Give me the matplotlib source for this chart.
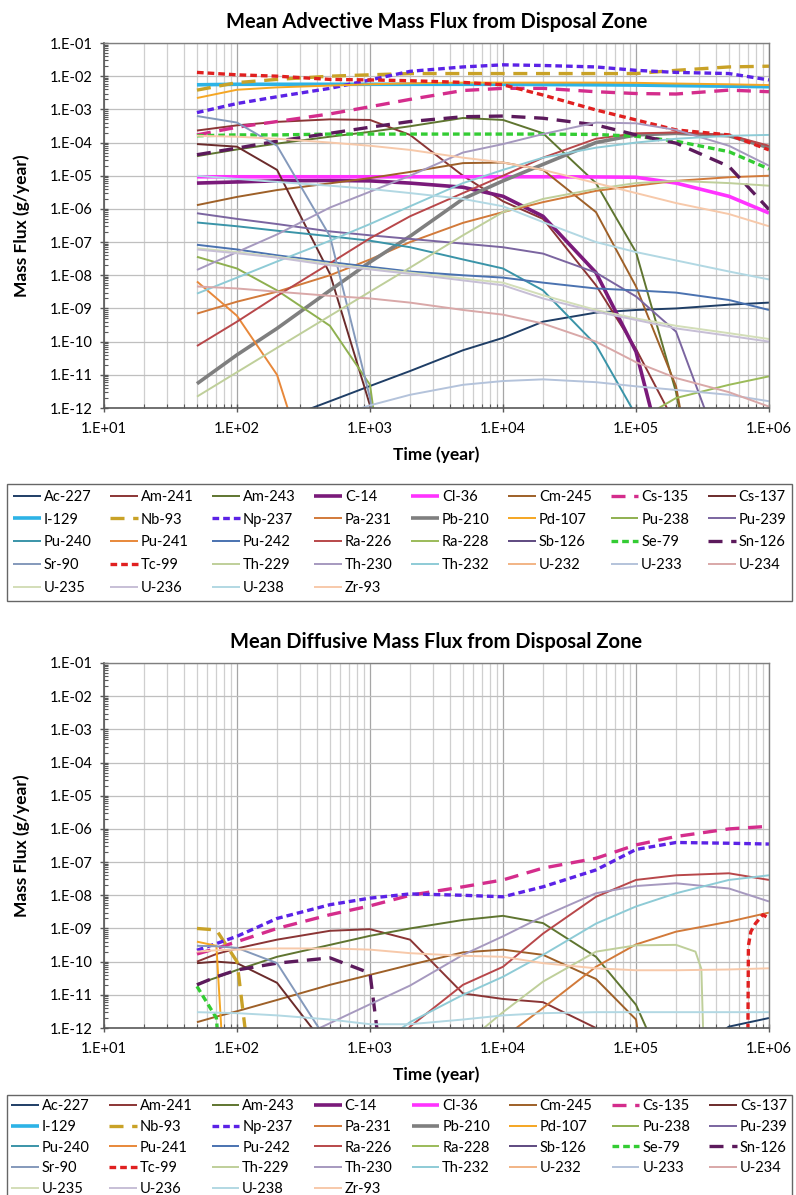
import numpy as np
import matplotlib
matplotlib.use('Agg')
import matplotlib.pyplot as plt
from matplotlib.ticker import FuncFormatter, LogLocator, NullFormatter
from matplotlib.lines import Line2D

plt.rcParams['font.family'] = ['Lato', 'DejaVu Sans']

n = np.nan

NUCLIDES = ['Ac-227', 'Am-241', 'Am-243', 'C-14', 'Cl-36', 'Cm-245', 'Cs-135', 'Cs-137',
            'I-129', 'Nb-93', 'Np-237', 'Pa-231', 'Pb-210', 'Pd-107', 'Pu-238', 'Pu-239',
            'Pu-240', 'Pu-241', 'Pu-242', 'Ra-226', 'Ra-228', 'Sb-126', 'Se-79', 'Sn-126',
            'Sr-90', 'Tc-99', 'Th-229', 'Th-230', 'Th-232', 'U-232', 'U-233', 'U-234',
            'U-235', 'U-236', 'U-238', 'Zr-93']

# ---- advective mass flux (g/year) ----
ADV_T = [50, 100, 200, 500, 1e3, 2e3, 5e3, 1e4, 2e4, 5e4, 1e5, 2e5, 5e5, 1e6]

ADV_AC227 = [n, n, 4e-13, 1.6e-12, 4.6e-12, 1.3e-11, 5.5e-11, 1.3e-10, 4e-10, 7.5e-10, 9e-10, 1e-9, 1.3e-9, 1.5e-9]
ADV_AM241 = [2.3e-4, 3.3e-4, 4.2e-4, 5e-4, 4.8e-4, 1.7e-4, 1e-5, 1.7e-6, 5e-7, 5e-9, 6e-11, 3e-13, n, n]
ADV_AM243 = [3.9e-5, 6.2e-5, 9.3e-5, 1.5e-4, 2.1e-4, 3.1e-4, 5.5e-4, 4.8e-4, 1.9e-4, 6e-6, 5e-8, 3e-12, 1e-20, n]
ADV_C14 = [6e-6, 6.5e-6, 7e-6, 7.2e-6, 7e-6, 6e-6, 4.5e-6, 2.4e-6, 6e-7, 1.2e-8, 5e-11, 1e-15, n, n]
ADV_CL36 = [9.3e-6, 9.3e-6, 9.3e-6, 9.3e-6, 9.3e-6, 9.3e-6, 9.3e-6, 9.3e-6, 9.3e-6, 9.2e-6, 9e-6, 6e-6, 2.4e-6, 7.5e-7]
ADV_CM245 = [1.3e-6, 2.3e-6, 3.7e-6, 5.9e-6, 8.5e-6, 1.3e-5, 2.4e-5, 2.5e-5, 1.5e-5, 8e-7, 4.6e-9, 4.5e-12, 1e-20, n]
ADV_CS135 = [1.7e-4, 2.9e-4, 4.3e-4, 7.3e-4, 1.2e-3, 2e-3, 3.7e-3, 4.3e-3, 4.3e-3, 3.4e-3, 3e-3, 2.9e-3, 3.8e-3, 3.4e-3]
ADV_CS137 = [9e-5, 7.5e-5, 1.5e-5, 1.1e-8, 1.2e-12, 1e-20, n, n, n, n, n, n, n, n]
ADV_I129 = [5.5e-3, 5.7e-3, 5.7e-3, 5.7e-3, 5.7e-3, 5.7e-3, 5.7e-3, 5.7e-3, 5.6e-3, 5.5e-3, 5.4e-3, 5.2e-3, 5e-3, 4.8e-3]
ADV_NB93 = [3.8e-3, 6.4e-3, 8e-3, 1e-2, 1.1e-2, 1.2e-2, 1.2e-2, 1.2e-2, 1.2e-2, 1.2e-2, 1.2e-2, 1.5e-2, 1.9e-2, 2e-2]
ADV_NP237 = [8e-4, 1.5e-3, 2.4e-3, 4.3e-3, 7.7e-3, 1.4e-2, 1.9e-2, 2.2e-2, 2.1e-2, 1.9e-2, 1.5e-2, 1.3e-2, 1.2e-2, 7.7e-3]
ADV_PA231 = [7e-10, 1.6e-9, 3.2e-9, 1e-8, 3e-8, 1e-7, 3.8e-7, 8e-7, 1.6e-6, 3.5e-6, 5e-6, 7e-6, 9e-6, 1e-5]
ADV_PB210 = [5.4e-12, 4e-11, 2.5e-10, 3.5e-9, 2.5e-8, 1.5e-7, 2e-6, 7e-6, 2.2e-5, 1e-4, 1.7e-4, 1.9e-4, 1.6e-4, 7e-5]
ADV_PD107 = [2.2e-3, 3.9e-3, 4.6e-3, 5.2e-3, 5.7e-3, 6.1e-3, 6.4e-3, 6.4e-3, 6.4e-3, 6.4e-3, 6.3e-3, 6e-3, 5.7e-3, 5.4e-3]
ADV_PU238 = [3.6e-8, 1.6e-8, 3.5e-9, 3e-10, 5e-12, 1e-20, n, n, n, n, n, n, n, n]
ADV_PU239 = [7.4e-7, 5e-7, 3.5e-7, 2.1e-7, 1.6e-7, 1.25e-7, 9e-8, 7e-8, 4.5e-8, 1.2e-8, 2.3e-9, 2e-10, 1e-14, n]
ADV_PU240 = [3.9e-7, 3e-7, 2.2e-7, 1.5e-7, 1.1e-7, 7e-8, 3e-8, 1.6e-8, 3.5e-9, 8e-11, 6e-13, 1e-20, n, n]
ADV_PU241 = [6.5e-9, 6e-10, 1e-11, 1e-16, n, n, n, n, n, n, n, n, n, n]
ADV_PU242 = [8.3e-8, 6e-8, 4e-8, 2.5e-8, 1.8e-8, 1.3e-8, 1e-8, 8.5e-9, 6e-9, 4e-9, 3.5e-9, 3e-9, 1.8e-9, 9e-10]
ADV_RA226 = [7.4e-11, 4e-10, 2.4e-9, 2.3e-8, 1.3e-7, 6e-7, 3e-6, 1e-5, 3.5e-5, 1.3e-4, 1.9e-4, 2e-4, 1.7e-4, 8e-5]
ADV_RA228 = [n, n, n, n, n, n, n, n, n, n, 4e-13, 2e-12, 5e-12, 9e-12]
ADV_SB126 = [n] * 14
ADV_SE79 = [1.6e-4, 1.7e-4, 1.7e-4, 1.8e-4, 1.8e-4, 1.8e-4, 1.8e-4, 1.8e-4, 1.8e-4, 1.75e-4, 1.55e-4, 1.1e-4, 5.3e-5, 1.6e-5]
ADV_SN126 = [4.3e-5, 6.8e-5, 1.1e-4, 1.9e-4, 2.9e-4, 4.3e-4, 6e-4, 6.3e-4, 5.4e-4, 3.4e-4, 1.7e-4, 9.6e-5, 1.9e-5, 9.6e-7]
ADV_SR90 = [6.3e-4, 4e-4, 8e-5, 1.5e-7, 2e-12, 1e-20, n, n, n, n, n, n, n, n]
ADV_TC99 = [1.3e-2, 1.1e-2, 1e-2, 8e-3, 7.7e-3, 7.3e-3, 6.5e-3, 5.5e-3, 2.7e-3, 9.6e-4, 4.8e-4, 2.4e-4, 1.7e-4, 6e-5]
ADV_TH229 = [2.2e-12, 1.2e-11, 6.5e-11, 6e-10, 3.2e-9, 1.7e-8, 1.6e-7, 8e-7, 2e-6, 4e-6, 6e-6, 7e-6, 6e-6, 5e-6]
ADV_TH230 = [1.45e-8, 5e-8, 1.7e-7, 1.1e-6, 3.3e-6, 1e-5, 5e-5, 9e-5, 1.8e-4, 4e-4, 3.8e-4, 2.4e-4, 8e-5, 2e-5]
ADV_TH232 = [2.8e-9, 8.5e-9, 2.6e-8, 1.1e-7, 3.5e-7, 1.2e-6, 6e-6, 1.5e-5, 3.5e-5, 7e-5, 1e-4, 1.3e-4, 1.6e-4, 1.7e-4]
ADV_U232 = [n] * 14
ADV_U233 = [n, n, n, 5e-13, 1.2e-12, 2.5e-12, 5e-12, 6.5e-12, 7.3e-12, 6e-12, 4.5e-12, 3.5e-12, 2.5e-12, 1.6e-12]
ADV_U234 = [4.6e-9, 4e-9, 3.2e-9, 2.4e-9, 2e-9, 1.5e-9, 9e-10, 6.5e-10, 3.5e-10, 1e-10, 2.4e-11, 8e-12, 3e-12, 1.1e-12]
ADV_U235 = [6.5e-8, 5e-8, 3.6e-8, 2.2e-8, 1.6e-8, 1.2e-8, 8e-9, 6e-9, 2.5e-9, 9e-10, 5e-10, 3e-10, 1.8e-10, 1.2e-10]
ADV_U236 = [6e-8, 4.6e-8, 3.4e-8, 2e-8, 1.5e-8, 1.1e-8, 7e-9, 5e-9, 2e-9, 8e-10, 4.5e-10, 2.5e-10, 1.5e-10, 1e-10]
ADV_U238 = [1e-5, 8e-6, 6.5e-6, 5e-6, 4e-6, 3e-6, 2e-6, 1.2e-6, 4e-7, 1e-7, 5e-8, 2.8e-8, 1.3e-8, 7.5e-9]
ADV_ZR93 = [1.6e-4, 1.5e-4, 1.3e-4, 1e-4, 8e-5, 6e-5, 3.5e-5, 2.5e-5, 1.5e-5, 6e-6, 3e-6, 1.5e-6, 7e-7, 3e-7]

# ---- diffusive mass flux (g/year) ----
DIF_T = [50, 70, 100, 200, 500, 1e3, 2e3, 5e3, 1e4, 2e4, 5e4, 1e5, 2e5, 5e5, 1e6]
DIF_TC99_T = [6.9e5, 7.0e5, 7.3e5, 7.9e5, 9e5, 1e6]
DIF_TH229_T = [5e3, 1e4, 2e4, 5e4, 1e5, 2e5, 2.8e5, 3.1e5, 3.3e5]

DIF_AC227 = [n, n, n, n, n, n, n, n, n, n, n, n, 1e-13, 1.1e-12, 2e-12]
DIF_AM241 = [1e-10, 1.7e-10, 2.5e-10, 4.6e-10, 8.5e-10, 9.5e-10, 4.6e-10, 1.1e-11, 7.5e-12, 6e-12, 1e-12, 1e-20, n, n, n]
DIF_AM243 = [2.1e-11, 3.3e-11, 5.6e-11, 1.4e-10, 3.2e-10, 6e-10, 1e-9, 1.8e-9, 2.4e-9, 1.45e-9, 1.4e-10, 5e-12, 1e-14, n, n]
DIF_C14 = [n] * 15
DIF_CL36 = [n] * 15
DIF_CM245 = [1.5e-12, 2.2e-12, 3.2e-12, 7e-12, 2e-11, 4e-11, 8e-11, 1.9e-10, 2.3e-10, 1.6e-10, 3e-11, 1.8e-12, 1e-20, n, n]
DIF_CS135 = [1.7e-10, 2.5e-10, 4e-10, 1e-9, 2.6e-9, 4.8e-9, 1e-8, 1.8e-8, 2.9e-8, 6.6e-8, 1.3e-7, 3.3e-7, 5.9e-7, 1e-6, 1.2e-6]
DIF_CS137 = [9e-11, 1e-10, 9e-11, 2.3e-11, 2e-13, n, n, n, n, n, n, n, n, n, n]
DIF_I129 = [n] * 15
DIF_NB93 = [1e-9, 9e-10, 1e-10, 1e-20, n, n, n, n, n, n, n, n, n, n, n]
DIF_NP237 = [2.2e-10, 3.5e-10, 5.8e-10, 2e-9, 5.2e-9, 8.2e-9, 1.1e-8, 1e-8, 9e-9, 1.8e-8, 5.8e-8, 2.4e-7, 3.9e-7, 3.7e-7, 3.5e-7]
DIF_PA231 = [n, n, n, n, n, n, n, n, 5e-13, 4e-12, 7e-11, 3.3e-10, 8e-10, 1.6e-9, 3e-9]
DIF_PB210 = [n] * 15
DIF_PD107 = [4e-10, 3e-10, 1e-20, n, n, n, n, n, n, n, n, n, n, n, n]
DIF_PU238 = [n] * 15
DIF_PU239 = [n] * 15
DIF_PU240 = [n] * 15
DIF_PU241 = [n] * 15
DIF_PU242 = [n] * 15
DIF_RA226 = [n, n, n, n, n, 5e-14, 1.1e-12, 2e-11, 7e-11, 7e-10, 9e-9, 2.9e-8, 4e-8, 4.6e-8, 2.9e-8]
DIF_RA228 = [n] * 15
DIF_SB126 = [n] * 15
DIF_SE79 = [1.8e-11, 2e-12, 1e-20, n, n, n, n, n, n, n, n, n, n, n, n]
DIF_SN126 = [2e-11, 3.5e-11, 5.6e-11, 9e-11, 1.3e-10, 4.5e-11, 1e-20, n, n, n, n, n, n, n, n]
DIF_SR90 = [3e-10, 2.9e-10, 2.6e-10, 9e-11, 3e-13, n, n, n, n, n, n, n, n, n, n]
DIF_TC99 = [1e-14, 3e-10, 8e-10, 1.4e-9, 2.6e-9, 2e-9]
DIF_TH229 = [3e-13, 3e-12, 2.5e-11, 2e-10, 3.1e-10, 3.2e-10, 2e-10, 6e-11, 1e-14]
DIF_TH230 = [n, n, n, 2.5e-13, 1.4e-12, 5.2e-12, 1.9e-11, 1.6e-10, 5.8e-10, 2.3e-9, 1.15e-8, 1.9e-8, 2.3e-8, 1.6e-8, 6.5e-9]
DIF_TH232 = [n, n, n, n, n, 2e-13, 1.5e-12, 1e-11, 3.5e-11, 1.6e-10, 1.4e-9, 4.6e-9, 1.15e-8, 2.9e-8, 4e-8]
DIF_U232 = [n] * 15
DIF_U233 = [n] * 15
DIF_U234 = [n] * 15
DIF_U235 = [n] * 15
DIF_U236 = [n] * 15
DIF_U238 = [3e-12, 2.9e-12, 2.8e-12, 2.4e-12, 1.8e-12, 1.3e-12, 1.3e-12, 1.8e-12, 2.4e-12, 2.8e-12, 3e-12, 3e-12, 3e-12, 3e-12, 3e-12]
DIF_ZR93 = [2e-10, 2.2e-10, 2.3e-10, 2.5e-10, 2.5e-10, 2.3e-10, 1.8e-10, 1.5e-10, 1.4e-10, 9e-11, 6.3e-11, 5.5e-11, 5.5e-11, 5.8e-11, 6.3e-11]

ADV_SERIES = [ADV_AC227, ADV_AM241, ADV_AM243, ADV_C14, ADV_CL36, ADV_CM245, ADV_CS135, ADV_CS137,
              ADV_I129, ADV_NB93, ADV_NP237, ADV_PA231, ADV_PB210, ADV_PD107, ADV_PU238, ADV_PU239,
              ADV_PU240, ADV_PU241, ADV_PU242, ADV_RA226, ADV_RA228, ADV_SB126, ADV_SE79, ADV_SN126,
              ADV_SR90, ADV_TC99, ADV_TH229, ADV_TH230, ADV_TH232, ADV_U232, ADV_U233, ADV_U234,
              ADV_U235, ADV_U236, ADV_U238, ADV_ZR93]
DIF_SERIES = [DIF_AC227, DIF_AM241, DIF_AM243, DIF_C14, DIF_CL36, DIF_CM245, DIF_CS135, DIF_CS137,
              DIF_I129, DIF_NB93, DIF_NP237, DIF_PA231, DIF_PB210, DIF_PD107, DIF_PU238, DIF_PU239,
              DIF_PU240, DIF_PU241, DIF_PU242, DIF_RA226, DIF_RA228, DIF_SB126, DIF_SE79, DIF_SN126,
              DIF_SR90, DIF_TC99, DIF_TH229, DIF_TH230, DIF_TH232, DIF_U232, DIF_U233, DIF_U234,
              DIF_U235, DIF_U236, DIF_U238, DIF_ZR93]
DIF_TIMES = {'Tc-99': DIF_TC99_T, 'Th-229': DIF_TH229_T}

# colour, line width, dash pattern (None = solid)
SHORT = (2.0, 1.2)
LONG = (4.2, 2.6)
STYLE = {
    'Ac-227': ('#1f3e66', 1.4, None), 'Am-241': ('#8b3535', 1.4, None),
    'Am-243': ('#5f7530', 1.4, None), 'C-14': ('#7a1a7a', 2.6, None),
    'Cl-36': ('#ff33ff', 2.6, None), 'Cm-245': ('#9e6028', 1.4, None),
    'Cs-135': ('#d42d8c', 2.4, LONG), 'Cs-137': ('#6b2b2b', 1.4, None),
    'I-129': ('#2db3e6', 2.6, None), 'Nb-93': ('#c9a227', 2.4, LONG),
    'Np-237': ('#5b22e6', 2.4, SHORT), 'Pa-231': ('#d27a3a', 1.4, None),
    'Pb-210': ('#7f7f7f', 2.6, None), 'Pd-107': ('#f5a623', 1.4, None),
    'Pu-238': ('#8fb050', 1.4, None), 'Pu-239': ('#7b65a0', 1.4, None),
    'Pu-240': ('#3a94a8', 1.4, None), 'Pu-241': ('#e8883a', 1.4, None),
    'Pu-242': ('#4a72b0', 1.4, None), 'Ra-226': ('#b8474a', 1.4, None),
    'Ra-228': ('#9bbb59', 1.4, None), 'Sb-126': ('#5e4a80', 1.4, None),
    'Se-79': ('#33cc33', 2.4, SHORT), 'Sn-126': ('#5c1a5c', 2.4, LONG),
    'Sr-90': ('#8499bb', 1.4, None), 'Tc-99': ('#e02020', 2.4, SHORT),
    'Th-229': ('#bfcf9a', 1.4, None), 'Th-230': ('#a699bf', 1.4, None),
    'Th-232': ('#8ecbd6', 1.4, None), 'U-232': ('#f2b485', 1.4, None),
    'U-233': ('#b4c3db', 1.4, None), 'U-234': ('#d9a8a8', 1.4, None),
    'U-235': ('#d3deb8', 1.4, None), 'U-236': ('#c7bfd6', 1.4, None),
    'U-238': ('#b2d8e3', 1.4, None), 'Zr-93': ('#f7c9aa', 1.4, None),
}

W, H = 796, 1195


def exp_label(v, pos):
    e = int(round(np.log10(v)))
    return f'1.E{e:+03d}'


def make_line(name):
    color, lw, dash = STYLE[name]
    ln = Line2D([], [], color=color, lw=lw, solid_capstyle='butt')
    if dash:
        ln.set_dashes(dash)
    return ln


def draw_panel(ax, times, series, extra_times, title):
    for name, vals in zip(NUCLIDES, series):
        t = extra_times.get(name, times)
        color, lw, dash = STYLE[name]
        ln, = ax.plot(t, vals, color=color, lw=lw, solid_capstyle='butt')
        if dash:
            ln.set_dashes(dash)

    ax.set_xscale('log')
    ax.set_yscale('log')
    ax.set_xlim(10, 1e6)
    ax.set_ylim(1e-12, 1e-1)

    ax.xaxis.set_major_locator(LogLocator(base=10, numticks=20))
    ax.xaxis.set_minor_locator(LogLocator(base=10, subs=np.arange(2, 10), numticks=100))
    ax.yaxis.set_major_locator(LogLocator(base=10, numticks=20))
    ax.yaxis.set_minor_locator(LogLocator(base=10, subs=np.arange(2, 10), numticks=100))
    ax.xaxis.set_major_formatter(FuncFormatter(exp_label))
    ax.yaxis.set_major_formatter(FuncFormatter(exp_label))
    ax.xaxis.set_minor_formatter(NullFormatter())
    ax.yaxis.set_minor_formatter(NullFormatter())

    ax.grid(which='major', axis='x', color='#a6a6a6', lw=0.9)
    ax.grid(which='minor', axis='x', color='#cfcfcf', lw=0.9)
    ax.grid(which='major', axis='y', color='#bfbfbf', lw=0.9)
    ax.set_axisbelow(True)

    ax.tick_params(which='major', direction='inout', length=6, width=1, color='#595959',
                   labelsize=10.5)
    ax.tick_params(axis='x', which='major', pad=7)
    ax.tick_params(axis='y', which='major', pad=5)
    ax.tick_params(which='minor', direction='in', length=3, width=0.8, color='#595959')
    for side in ['left', 'bottom']:
        ax.spines[side].set_color('#595959')
        ax.spines[side].set_linewidth(1.2)
    for side in ['top', 'right']:
        ax.spines[side].set_color('#7f7f7f')
        ax.spines[side].set_linewidth(1.0)

    ax.set_xlabel('Time (year)', fontsize=12.5, fontweight='bold')
    ax.set_ylabel('Mass Flux (g/year)', fontsize=12.5, fontweight='bold')
    ax.xaxis.set_label_coords(0.5, -0.105)
    ax.yaxis.set_label_coords(-0.111, 0.5)
    ax.set_title(title, fontsize=14.5, fontweight='bold', pad=11)


def add_legend(fig, top_px, spacing, pad):
    handles = [make_line(name) for name in NUCLIDES]
    ncol, total = 8, len(NUCLIDES)
    order = [r * ncol + c for c in range(ncol) for r in range(5) if r * ncol + c < total]
    leg = fig.legend([handles[i] for i in order], [NUCLIDES[i] for i in order],
                     ncol=ncol, mode='expand', loc='upper left',
                     bbox_to_anchor=(7 / W, 1 - top_px / H, 785 / W, 0),
                     fontsize=10.5, handlelength=1.9, handletextpad=0.2,
                     labelspacing=spacing, borderpad=pad, columnspacing=0.4,
                     frameon=True, fancybox=False, borderaxespad=0)
    frame = leg.get_frame()
    frame.set_edgecolor('#404040')
    frame.set_linewidth(1.0)


fig = plt.figure(figsize=(W / 100, H / 100), dpi=100)
fig.patch.set_facecolor('white')

ax_top = fig.add_axes([104 / W, 1 - 408 / H, 665 / W, 365 / H])
ax_bot = fig.add_axes([104 / W, 1 - 1028 / H, 665 / W, 365 / H])

draw_panel(ax_top, ADV_T, ADV_SERIES, {}, 'Mean Advective Mass Flux from Disposal Zone')
draw_panel(ax_bot, DIF_T, DIF_SERIES, DIF_TIMES, 'Mean Diffusive Mass Flux from Disposal Zone')

add_legend(fig, 484, 0.6, 0.4)
add_legend(fig, 1095, 0.45, 0.3)

fig.savefig('out.png', dpi=100, facecolor='white')
